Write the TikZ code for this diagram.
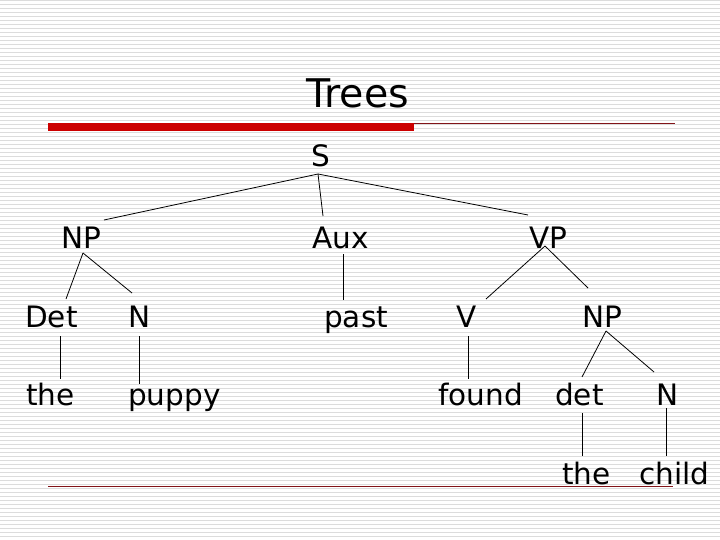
\documentclass[tikz,border=0pt]{standalone}
\usepackage{fontspec}
\setmainfont{DejaVu Sans}
\definecolor{barred}{HTML}{CC0000}
\definecolor{rulered}{RGB}{130,20,25}
\definecolor{stripe}{RGB}{220,220,220}
\tikzset{
  lbl/.style={anchor=base west,inner sep=0pt,font=\fontsize{29.5}{31}\selectfont},
  ttl/.style={anchor=base west,inner sep=0pt,font=\fontsize{39.5}{41}\selectfont},
  edge/.style={draw=black,line width=0.8pt},
  stripeline/.style={draw=stripe,line width=1.3pt},
  thinrule/.style={draw=rulered,line width=1pt}
}
\newcommand\treeedge[4]{\draw[edge] ([shift={(#2)}]#1.base west) -- ([shift={(#4)}]#3.base west);}
\begin{document}
\begin{tikzpicture}[x=1pt,y=-1pt]
\useasboundingbox (0,0) rectangle (720,540);
\fill[white] (0,0) rectangle (720,540);
\foreach \yy in {0,4,...,540} {\draw[stripeline] (0,\yy+0.8) -- (720,\yy+0.8);}
% title and rules
\node[ttl] (title) at (306,108) {Trees};
\fill[barred] (48,123) rectangle (414,131.5);
\draw[thinrule] (414,123.5) -- (675,123.5);
\draw[thinrule] (48,486) -- (673,486);
% tree labels
\node[lbl] (S) at (311,167) {S};
\node[lbl] (NP1) at (61,248) {NP};
\node[lbl] (Aux) at (312,248) {Aux};
\node[lbl] (VP) at (529,248) {VP};
\node[lbl] (Det) at (25,327) {Det};
\node[lbl] (N1) at (128,327) {N};
\node[lbl] (past) at (324,327) {past};
\node[lbl] (V) at (456,327) {V};
\node[lbl] (NP2) at (582,327) {NP};
\node[lbl] (the1) at (26,405) {the};
\node[lbl] (puppy) at (128,405) {puppy};
\node[lbl] (found) at (438,405) {found};
\node[lbl] (det) at (555,405) {det};
\node[lbl] (N2) at (656,405) {N};
\node[lbl] (the2) at (562,484) {the};
\node[lbl] (child) at (639,484) {child};
% connectors
\treeedge{S}{7,7}{NP1}{43,-28}
\treeedge{S}{7,7}{Aux}{11,-32}
\treeedge{S}{7,7}{VP}{-1,-33}
\treeedge{NP1}{22,5}{Det}{41,-28}
\treeedge{NP1}{22,5}{N1}{4,-34}
\treeedge{Det}{35,9}{the1}{34,-26}
\treeedge{N1}{11,9}{puppy}{11,-21}
\treeedge{Aux}{31,6}{past}{19,-27}
\treeedge{VP}{16,-2}{V}{30,-28}
\treeedge{VP}{16,-2}{NP2}{6,-39}
\treeedge{V}{12,9}{found}{30,-26}
\treeedge{NP2}{24,4}{det}{27,-28}
\treeedge{NP2}{24,4}{N2}{-2,-33}
\treeedge{det}{27,8}{the2}{20,-28}
\treeedge{N2}{10,3}{child}{27,-28}
\end{tikzpicture}
\end{document}
